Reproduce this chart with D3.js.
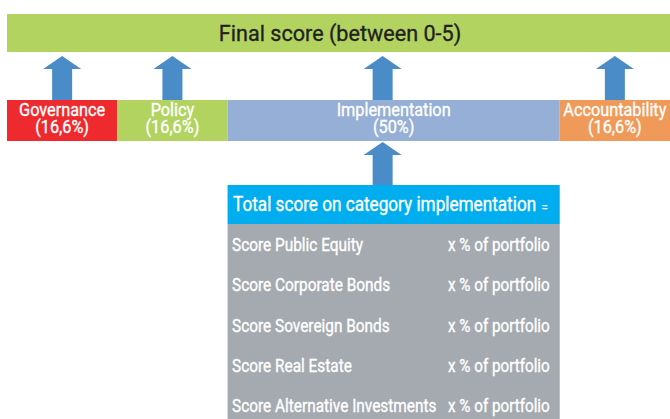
<!DOCTYPE html>
<html lang="en">
<head>
<meta charset="utf-8">
<title>Final score</title>
<style>
  html, body { margin: 0; padding: 0; background: #fff; }
  svg text { font-family: Roboto, "Liberation Sans", sans-serif; stroke-width: 0.35px; }
</style>
</head>
<body>
<svg width="670" height="419"></svg>
<script src="https://d3js.org/d3.v7.min.js"></script>
<script>

    var categories = ["Governance", "Policy", "Implementation", "Accountability"],
        weights = [16.6, 16.6, 50, 16.6],
        weightLabels = ["(16,6%)", "(16,6%)", "(50%)", "(16,6%)"],
        assets = ["Public Equity", "Corporate Bonds", "Sovereign Bonds", "Real Estate", "Alternative Investments"];

    var title = "Final score (between 0-5)",
        header = "Total score on category implementation",
        share = "x % of portfolio";

    var colors = ["#ee2a2f", "#b2d35f", "#95afd6", "#f09a59"];

    var svg = d3.select("svg"),
        width = +svg.attr("width"),
        height = +svg.attr("height");

    // place a text at (tx,ty) squeezed horizontally to look condensed
    function place(tx, ty, k) {
        return "translate(" + tx + "," + ty + ") scale(" + k + ",1)";
    }

    // cumulative weights -> x positions
    var starts = [];
    weights.reduce(function(acc, w) { starts.push(acc); return acc + w; }, 0);
    var total = d3.sum(weights);

    var x = d3.scaleLinear().domain([0, total]).range([7, width]);

    var rowTop = 100, rowBottom = 141;

    // top bar
    svg.append("rect")
        .attr("x", 7).attr("y", 14)
        .attr("width", width - 7).attr("height", 38)
        .attr("fill", "#b2d35f");

    svg.append("text")
        .attr("transform", place(340, 41, 0.96))
        .attr("text-anchor", "middle")
        .attr("font-size", 22.5)
        .attr("fill", "#231f20")
        .attr("stroke", "#231f20")
        .text(title);

    function arrow(cx, top, bottom) {
        var hw = 19, sw = 10, head = 13;
        return "M" + cx + "," + top +
            "L" + (cx + hw) + "," + (top + head) +
            "L" + (cx + sw) + "," + (top + head) +
            "L" + (cx + sw) + "," + bottom +
            "L" + (cx - sw) + "," + bottom +
            "L" + (cx - sw) + "," + (top + head) +
            "L" + (cx - hw) + "," + (top + head) + "Z";
    }

    var cats = svg.selectAll("g.cat")
        .data(categories)
        .enter().append("g")
        .attr("class", "cat");

    cats.append("rect")
        .attr("x", function(d, i) { return x(starts[i]); })
        .attr("y", rowTop)
        .attr("width", function(d, i) { return x(starts[i] + weights[i]) - x(starts[i]); })
        .attr("height", rowBottom - rowTop)
        .attr("fill", function(d, i) { return colors[i]; });

    function mid(i) {
        return (x(starts[i]) + x(starts[i] + weights[i])) / 2;
    }
    // arrow above implementation sits a little left of the box centre
    function arrowX(i) {
        return i === 2 ? mid(i) - 11 : mid(i);
    }

    cats.append("path")
        .attr("d", function(d, i) { return arrow(arrowX(i), 56, rowTop); })
        .attr("fill", "#4a8cc7");

    var labels = cats.append("text")
        .attr("transform", function(d, i) { return place(mid(i), 116, 0.88); })
        .attr("text-anchor", "middle")
        .attr("font-size", 18.5)
        .attr("fill", "#fff")
        .attr("stroke", "#fff");

    labels.append("tspan")
        .attr("x", 0)
        .text(function(d) { return d; });

    labels.append("tspan")
        .attr("x", 0)
        .attr("dy", 17)
        .text(function(d, i) { return weightLabels[i]; });

    // implementation breakdown
    var bx0 = x(starts[2]), bx1 = x(starts[2] + weights[2]);
    var boxTop = 185, headBottom = 224;

    svg.append("path")
        .attr("d", arrow(arrowX(2), 142, boxTop))
        .attr("fill", "#4a8cc7");

    svg.append("rect")
        .attr("x", bx0).attr("y", boxTop)
        .attr("width", bx1 - bx0).attr("height", headBottom - boxTop)
        .attr("fill", "#00aeef");

    var head = svg.append("text")
        .attr("transform", place(233, 211, 0.88))
        .attr("font-size", 19.5)
        .attr("fill", "#fff")
        .attr("stroke", "#fff");

    head.append("tspan").text(header);
    head.append("tspan")
        .attr("dx", 6)
        .attr("dy", 1)
        .attr("font-size", 13)
        .text("=");

    svg.append("rect")
        .attr("x", bx0).attr("y", headBottom)
        .attr("width", bx1 - bx0).attr("height", height - headBottom)
        .attr("fill", "#a5aab1");

    var y = d3.scaleBand().domain(assets).range([headBottom, headBottom + 5 * 40.3]);

    var rows = svg.selectAll("g.asset")
        .data(assets)
        .enter().append("g")
        .attr("class", "asset")
        .attr("transform", function(d) { return "translate(0," + (y(d) + y.bandwidth() / 2 + 7) + ")"; });

    rows.append("text")
        .attr("transform", place(232, 0, 0.88))
        .attr("font-size", 17.5)
        .attr("fill", "#fff")
        .attr("stroke", "#fff")
        .text(function(d) { return "Score " + d; });

    rows.append("text")
        .attr("transform", place(448, 0, 0.87))
        .attr("font-size", 17.5)
        .attr("fill", "#fff")
        .attr("stroke", "#fff")
        .text(share);

</script>
</body>
</html>
